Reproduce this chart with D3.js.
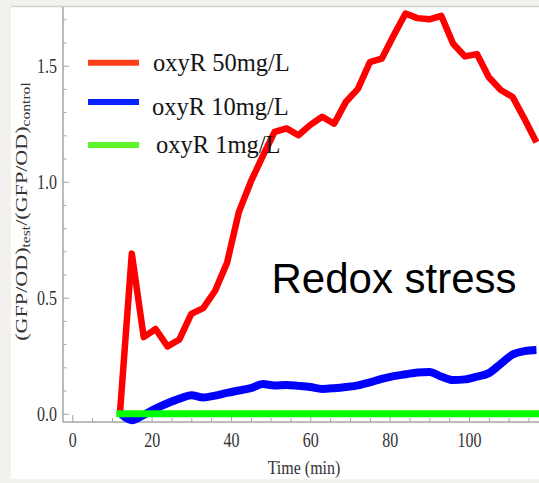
<!DOCTYPE html>
<html><head><meta charset="utf-8">
<script src="https://cdn.jsdelivr.net/npm/d3@7"></script>
<style>
html,body{margin:0;padding:0;background:#f2f1ed;}
svg{display:block;}
</style></head>
<body>
<svg id="chart" width="539" height="483"></svg>
<script>
// ---- data ----
const times = [12,15,18,21,24,27,30,33,36,39,42,45,48,51,54,57,60,63,66,69,72,75,78,81,84,87,90,93,96,99,102,105,108,111,114,117];
const red50 = [0.0,0.69,0.33,0.365,0.29,0.32,0.43,0.455,0.53,0.65,0.87,1.0,1.11,1.215,1.23,1.20,1.245,1.28,1.25,1.345,1.40,1.515,1.53,1.63,1.725,1.705,1.70,1.715,1.595,1.54,1.55,1.45,1.395,1.365,1.27,1.17];
const blue10 = [0.005,-0.028,-0.005,0.022,0.045,0.065,0.08,0.07,0.078,0.09,0.1,0.11,0.128,0.122,0.124,0.12,0.115,0.107,0.11,0.115,0.122,0.135,0.15,0.162,0.17,0.178,0.18,0.16,0.145,0.148,0.16,0.175,0.215,0.255,0.27,0.275];
const green1 = [0,0,0,0,0,0,0,0,0,0,0,0,0,0,0,0,0,0,0,0,0,0,0,0,0,0,0,0,0,0,0,0,0,0,0,0];
const seriesNames = ["oxyR 50mg/L","oxyR 10mg/L","oxyR 1mg/L"];
const seriesColors = ["#ff0000","#0000ff","#00ff00"];
const legendColors = ["#ff3f17","#0a22ff","#5ef52a"];
const xMajorTicks = [0,20,40,60,80,100];
const xMinorTicks = [5,10,15,25,30,35,45,50,55,65,70,75,85,90,95,105,110,115];
const yMajorTicks = [0,0.5,1.0,1.5];
const yMinorTicks = [0.1,0.2,0.3,0.4,0.6,0.7,0.8,0.9,1.1,1.2,1.3,1.4,1.6,1.7];

// ---- layout ----
const svg = d3.select("#chart");
const axisX0 = 63, axisY0 = 422;
const x = d3.scaleLinear().domain([0,120]).range([72.3, 72.3 + 120*3.967]);
const y = d3.scaleLinear().domain([0,1.5]).range([413.7, 65.7]);

// white panel
svg.append("rect").attr("x",11).attr("y",7).attr("width",528).attr("height",472).attr("fill","#ffffff");
svg.append("line").attr("x1",11).attr("x2",539).attr("y1",6.5).attr("y2",6.5).attr("stroke","#cfcfcb").attr("stroke-width",1.5);

const axisColor = "#a6a6a6";
const tickFont = "'Liberation Serif', 'Times New Roman', serif";

function styleAxis(g){
  g.select(".domain").remove();
  g.selectAll(".tick line").attr("stroke",axisColor).attr("stroke-width",1);
}
const yMajor = svg.append("g").attr("transform",`translate(${axisX0},0)`)
  .call(d3.axisLeft(y).tickValues(yMajorTicks).tickSize(-6).tickPadding(6).tickFormat(d3.format(".1f")));
styleAxis(yMajor);
yMajor.selectAll(".tick text")
  .attr("x",-6).attr("fill","#333").style("font-family",tickFont).style("font-size","16px")
  .attr("transform","scale(1,1.3)");
const yMinor = svg.append("g").attr("transform",`translate(${axisX0},0)`)
  .call(d3.axisLeft(y).tickValues(yMinorTicks).tickSize(-3.5).tickFormat(""));
styleAxis(yMinor);

const xMajor = svg.append("g").attr("transform",`translate(0,${axisY0})`)
  .call(d3.axisBottom(x).tickValues(xMajorTicks).tickSize(-7).tickFormat(d3.format("d")));
styleAxis(xMajor);
xMajor.selectAll(".tick text")
  .attr("y",0).attr("dy","0.35em").attr("fill","#333").style("font-family",tickFont).style("font-size","16px")
  .attr("transform","translate(0,18) scale(1,1.3)");
const xMinor = svg.append("g").attr("transform",`translate(0,${axisY0})`)
  .call(d3.axisBottom(x).tickValues(xMinorTicks).tickSize(-4).tickFormat(""));
styleAxis(xMinor);

svg.append("line").attr("x1",axisX0).attr("x2",axisX0).attr("y1",7).attr("y2",axisY0+0.5).attr("stroke",axisColor).attr("stroke-width",1.5);
svg.append("line").attr("x1",axisX0).attr("x2",539).attr("y1",axisY0).attr("y2",axisY0).attr("stroke",axisColor).attr("stroke-width",1.5);

svg.append("text").attr("transform","translate(304,474) scale(1,1.15)")
  .attr("text-anchor","middle").attr("fill","#333")
  .style("font-family",tickFont).style("font-size","16px").text("Time (min)");

const yl = svg.append("text").attr("transform","translate(27,211.5) scale(1,1.3) rotate(-90)")
  .attr("text-anchor","middle").attr("fill","#333")
  .style("font-family",tickFont).style("font-size","17px");
yl.append("tspan").text("(GFP/OD)");
yl.append("tspan").attr("dy","3").style("font-size","12px").text("test");
yl.append("tspan").attr("dy","-3").text("/(GFP/OD)");
yl.append("tspan").attr("dy","3").style("font-size","12px").text("control");

const seriesData = [red50, blue10, green1];
const widths = [6.5, 8, 7];
const line = d3.line().x(d => x(d[0])).y(d => y(d[1]));
seriesData.forEach((vals, i) => {
  const pts = times.map((t, j) => [t, vals[j]]);
  svg.append("path").datum(pts)
    .attr("d", i === 1 ? line.curve(d3.curveMonotoneX)(pts) : line.curve(d3.curveLinear)(pts))
    .attr("fill","none").attr("stroke",seriesColors[i]).attr("stroke-width",widths[i])
    .attr("stroke-linejoin","round").attr("stroke-linecap", i === 2 ? "square" : "butt");
});

const legY = [62.7, 102, 145];
const legTextX = [153, 152, 156];
const legBase = [71, 115, 153];
seriesNames.forEach((name, i) => {
  svg.append("line").attr("x1",88).attr("x2",139).attr("y1",legY[i]).attr("y2",legY[i])
    .attr("stroke",legendColors[i]).attr("stroke-width",6);
  svg.append("text").attr("x",legTextX[i]).attr("y",legBase[i]).attr("fill","#151515")
    .style("font-family",tickFont).style("font-size","24.5px").text(name);
});

svg.append("text").attr("x",271.5).attr("y",293).attr("fill","#000")
  .style("font-family","'Liberation Sans', Arial, sans-serif").style("font-size","42px").text("Redox stress");
</script>
</body></html>
